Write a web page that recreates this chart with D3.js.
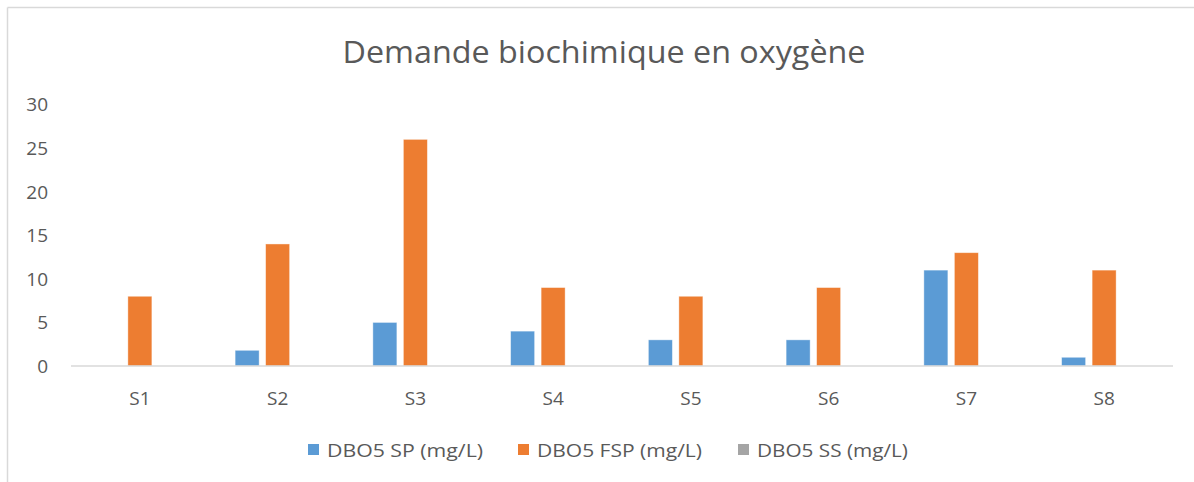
<!DOCTYPE html>
<html>
<head>
<meta charset="utf-8">
<script src="https://cdn.jsdelivr.net/npm/d3@7"></script>
<style>
  body { margin: 0; background: #fff; }
  svg text { font-family: "Open Sans", sans-serif; fill: #595959; }
</style>
</head>
<body>
<div id="chart"></div>
<script>
// data
var sites = ["S1", "S2", "S3", "S4", "S5", "S6", "S7", "S8"]
var seriesNames = ["DBO5 SP (mg/L)", "DBO5 FSP (mg/L)", "DBO5 SS (mg/L)"]
var sp  = [0, 1.8, 5, 4, 3, 3, 11, 1]
var fsp = [8, 14, 26, 9, 8, 9, 13, 11]
var ss  = [0, 0, 0, 0, 0, 0, 0, 0]
var yTicks = [0, 5, 10, 15, 20, 25, 30]
var colors = ["#5B9BD5", "#ED7D31", "#A5A5A5"]

var W = 1194, H = 482

var svg = d3.select("#chart").append("svg")
  .attr("width", W).attr("height", H)

// chart frame (only top + left edges visible in the crop)
svg.append("line").attr("x1", 7.5).attr("x2", W).attr("y1", 7.5).attr("y2", 7.5)
  .attr("stroke", "#D9D9D9").attr("stroke-width", 1.5)
svg.append("line").attr("x1", 7.5).attr("x2", 7.5).attr("y1", 7.5).attr("y2", H)
  .attr("stroke", "#D9D9D9").attr("stroke-width", 1.5)

// title
svg.append("text")
  .attr("x", 604).attr("y", 63)
  .attr("text-anchor", "middle")
  .style("font-size", "31px")
  .attr("textLength", 523).attr("lengthAdjust", "spacingAndGlyphs")
  .text("Demande biochimique en oxygène")

var x = d3.scaleBand().domain(sites).range([71, 1173])
var inner = d3.scaleBand().domain(seriesNames)
  .range([-45.75, 45.75]).paddingInner(0.213).paddingOuter(0.1065)
var y = d3.scaleLinear().domain([0, 30]).range([366, 104.5])

var rows = sites.map(function(s, i) {
  return { site: s, vals: [sp[i], fsp[i], ss[i]] }
})

// bars
var groups = svg.selectAll("g.site").data(rows).enter().append("g")
  .attr("class", "site")
  .attr("transform", function(d) { return "translate(" + (x(d.site) + x.bandwidth() / 2) + ",0)" })

groups.selectAll("rect")
  .data(function(d) { return d.vals.map(function(v, j) { return { v: v, j: j } }) })
  .enter().append("rect")
  .attr("x", function(d) { return inner(seriesNames[d.j]) })
  .attr("width", inner.bandwidth())
  .attr("y", function(d) { return y(d.v) })
  .attr("height", function(d) { return y(0) - y(d.v) })
  .attr("fill", function(d) { return colors[d.j] })
  .attr("stroke", "#fff").attr("stroke-opacity", 0.5).attr("stroke-width", 0.8)

// x axis line
svg.append("line").attr("x1", 71).attr("x2", 1173).attr("y1", y(0)).attr("y2", y(0))
  .attr("stroke", "#D9D9D9").attr("stroke-width", 1.5)

// y tick labels
svg.selectAll("text.ytick").data(yTicks).enter().append("text")
  .attr("class", "ytick")
  .attr("x", 48).attr("y", function(d) { return y(d) })
  .attr("dy", "0.36em")
  .attr("text-anchor", "end")
  .style("font-size", "19px")
  .text(function(d) { return d })

// x labels
svg.selectAll("text.xtick").data(sites).enter().append("text")
  .attr("class", "xtick")
  .attr("x", function(d) { return x(d) + x.bandwidth() / 2 })
  .attr("y", 398).attr("dy", "0.36em")
  .attr("text-anchor", "middle")
  .style("font-size", "19px")
  .text(function(d) { return d })

// legend
var legX = [308, 518, 738]
var legW = [156, 165, 151]
var leg = svg.selectAll("g.leg").data(seriesNames).enter().append("g")
  .attr("class", "leg")
  .attr("transform", function(d, i) { return "translate(" + legX[i] + ",450)" })
leg.append("rect").attr("x", 0).attr("y", -6).attr("width", 11).attr("height", 11)
  .attr("fill", function(d, i) { return colors[i] })
leg.append("text").attr("x", 19).attr("y", 0).attr("dy", "0.36em")
  .style("font-size", "19px")
  .attr("textLength", function(d, i) { return legW[i] })
  .attr("lengthAdjust", "spacingAndGlyphs")
  .text(function(d) { return d })
</script>
</body>
</html>
